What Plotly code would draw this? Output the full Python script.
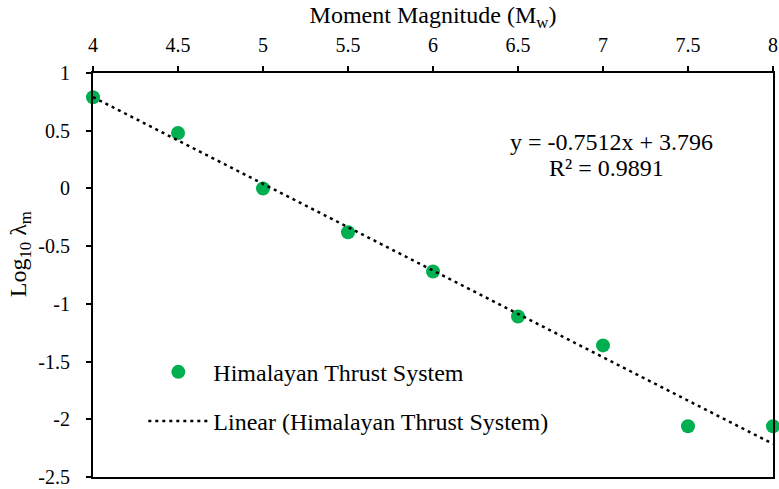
import plotly.graph_objects as go

# Annual rate of exceedance (log10) vs moment magnitude
magnitude = [4.0, 4.5, 5.0, 5.5, 6.0, 6.5, 7.0, 7.5, 8.0]
log_rate = [0.79, 0.48, 0.0, -0.38, -0.72, -1.11, -1.36, -2.06, -2.06]

# Tick values and labels (plain hyphen for negatives)
x_ticks = [4, 4.5, 5, 5.5, 6, 6.5, 7, 7.5, 8]
x_labels = ["4", "4.5", "5", "5.5", "6", "6.5", "7", "7.5", "8"]
y_ticks = [1, 0.5, 0, -0.5, -1, -1.5, -2, -2.5]
y_labels = ["1", "0.5", "0", "-0.5", "-1", "-1.5", "-2", "-2.5"]

# Linear trendline coefficients
slope = -0.7512
intercept = 3.796
r_squared = 0.9891

fit_x = [magnitude[0], magnitude[-1]]
fit_y = [slope * x + intercept for x in fit_x]

FONT = "Times New Roman, Liberation Serif, serif"
GREEN = "rgb(0,176,80)"

fig = go.Figure()

fig.add_trace(go.Scatter(
    x=magnitude, y=log_rate, mode="markers",
    name="Himalayan Thrust System",
    marker=dict(color=GREEN, size=14),
    legendgroup="a", cliponaxis=False,
))

fig.add_trace(go.Scatter(
    x=fit_x, y=fit_y, mode="lines",
    name="Linear (Himalayan Thrust System)",
    line=dict(color="black", width=2.5, dash="3px,4px"),
    legendgroup="b",
))

# Trendline equation and goodness of fit
fig.add_annotation(
    x=0.762, y=0.829, xref="paper", yref="paper",
    xanchor="center", yanchor="middle",
    text=f"y = {slope}x + {intercept}",
    showarrow=False, font=dict(family=FONT, size=24, color="black"),
)
fig.add_annotation(
    x=0.755, y=0.765, xref="paper", yref="paper",
    xanchor="center", yanchor="middle",
    text=f"R² = {r_squared}",
    showarrow=False, font=dict(family=FONT, size=24, color="black"),
)

# Vertical axis title, placed slightly above the plot centre
fig.add_annotation(
    x=-0.107, y=0.552, xref="paper", yref="paper",
    xanchor="center", yanchor="middle", textangle=-90,
    text="Log<sub>10</sub> λ<sub>m</sub>",
    showarrow=False, font=dict(family=FONT, size=24, color="black"),
)

fig.update_layout(
    width=779, height=489,
    margin=dict(l=93, r=1, t=73, b=12),
    paper_bgcolor="white", plot_bgcolor="white",
    font=dict(family=FONT, color="black"),
    showlegend=True,
    legend=dict(
        x=0.074, y=0.315, xanchor="left", yanchor="top",
        font=dict(family=FONT, size=24),
        bgcolor="rgba(0,0,0,0)", tracegroupgap=15, itemwidth=60,
    ),
    xaxis=dict(
        side="top", range=[4, 8],
        tickmode="array", tickvals=x_ticks, ticktext=x_labels,
        ticklabeloverflow="allow", ticklabelstandoff=6,
        showgrid=False, zeroline=False,
        showline=True, linecolor="black", linewidth=2, mirror=True,
        ticks="outside", ticklen=5, tickwidth=1.5, tickcolor="black",
        tickfont=dict(family=FONT, size=20),
        title=dict(text="Moment Magnitude (M<sub>w</sub>)",
                   font=dict(family=FONT, size=24), standoff=4),
    ),
    yaxis=dict(
        range=[-2.5, 1],
        tickmode="array", tickvals=y_ticks, ticktext=y_labels,
        ticklabeloverflow="allow", ticklabelstandoff=12,
        showgrid=False, zeroline=False,
        showline=True, linecolor="black", linewidth=2, mirror=True,
        ticks="outside", ticklen=5, tickwidth=1.5, tickcolor="black",
        tickfont=dict(family=FONT, size=20),
    ),
)

fig.write_html("out.html")
